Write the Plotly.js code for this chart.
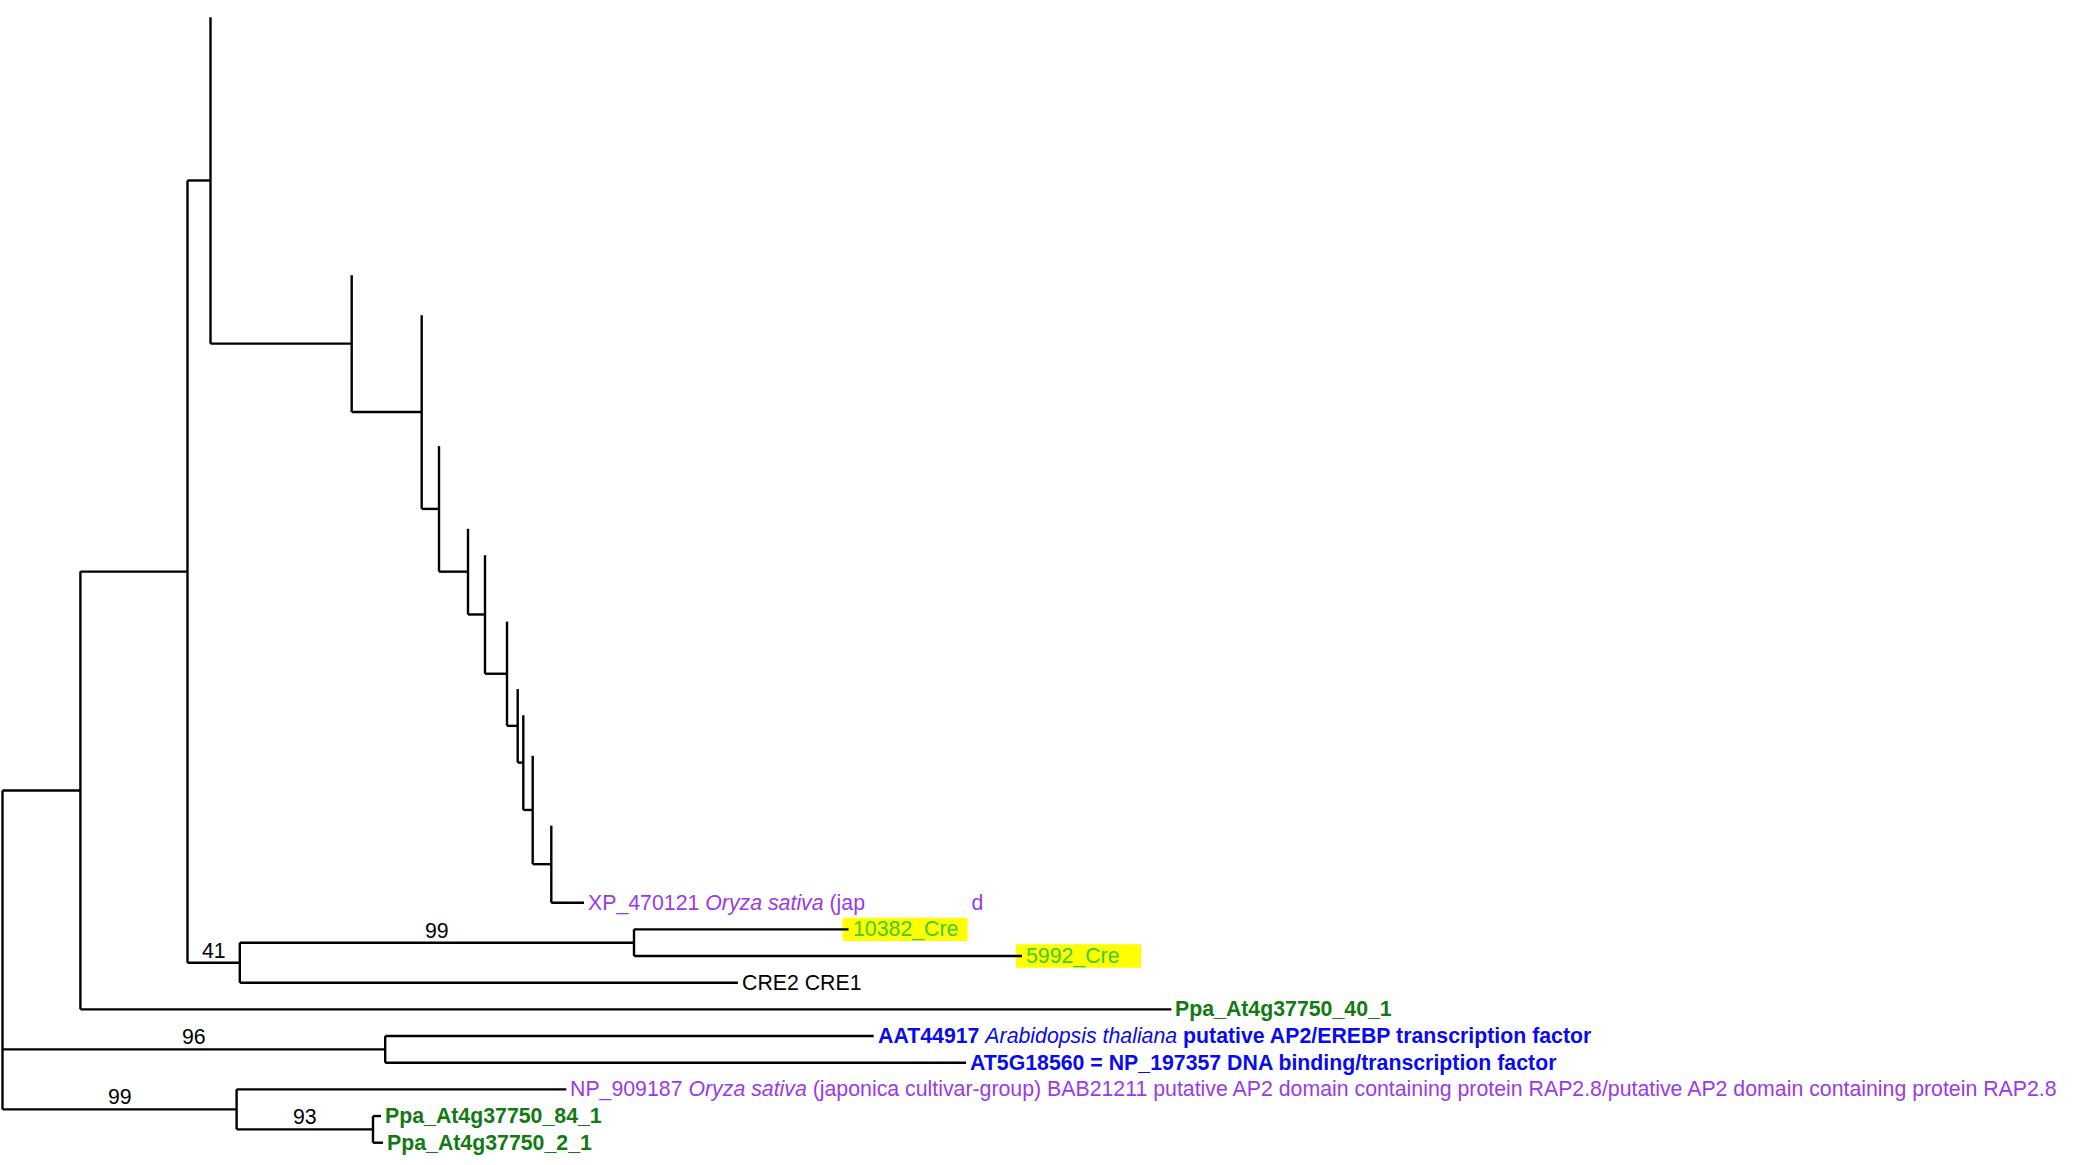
<!DOCTYPE html>
<html><head><meta charset="utf-8">
<script src="https://cdn.plot.ly/plotly-3.0.1.min.js"></script>
<style>html,body{margin:0;padding:0;background:#fff}#chart{width:2084px;height:1165px}</style>
</head><body><div id="chart"></div>
<script>
// ---- tree topology (parent listed before child) ----
const nodeIds = ['root','nA','nB','nC','t0','l1','t1','l2','t2','l3','t3','l4','t4','l5','t5','l6','t6','l7','t7','l8','t8','l9','t9','l10','t10','xp',
  'n41','n99a','c10382','c5992','cre','ppa40','n96','aat','at5','n99b','np','n93','ppa84','ppa2'];
const nodeParents = [null,'root','nA','nB','nC','nC','l1','l1','l2','l2','l3','l3','l4','l4','l5','l5','l6','l6','l7','l7','l8','l8','l9','l9','l10','l10',
  'nB','n41','n99a','n99a','n41','nA','root','n96','n96','root','n99b','n99b','n93','n93'];
// branch lengths (parent -> node)
const branchLengths = [0,0.0779,0.1071,0.0230,0,0.1412,0,0.0700,0,0.0173,0,0.0290,0,0.0170,0,0.0220,0,0.0107,0,0.0056,0,0.0094,0,0.0186,0,0.0327,
  0.0523,0.3942,0.2145,0.3880,0.4981,1.0910,0.3827,0.4885,0.5808,0.2341,0.3297,0.1364,0.0080,0.0100];

// ---- leaves: vertical order positions and labels ----
const leafIds = ['t0','t1','t2','t3','t4','t5','t6','t7','t8','t9','t10','xp','c10382','c5992','cre','ppa40','aat','at5','np','ppa84','ppa2'];
const leafRows = [-0.20,9.47,10.97,15.88,18.98,19.97,22.46,24.99,25.97,27.49,30.11,33,34,35,36,37,38,39,40,41,42];
const leafLabels = ['','','','','','','','','','','',
  'XP_470121 <i>Oryza sativa</i> (jap' + '\u00A0'.repeat(18) + 'd',
  '10382_Cre',
  '5992_Cre',
  'CRE2 CRE1',
  '<b>Ppa_At4g37750_40_1</b>',
  '<b>AAT44917</b> <i>Arabidopsis thaliana</i> <b>putative AP2/EREBP transcription factor</b>',
  '<b>AT5G18560 = NP_197357 DNA binding/transcription factor</b>',
  'NP_909187 <i>Oryza sativa</i> (japonica cultivar-group) BAB21211 putative AP2 domain containing protein RAP2.8/putative AP2 domain containing protein RAP2.8',
  '<b>Ppa_At4g37750_84_1</b>',
  '<b>Ppa_At4g37750_2_1</b>'];
const leafGroups = ['','','','','','','','','','','','rice','cre','cre','other','moss','arab','arab','rice','moss','moss'];
const highlightedLeaves = ['c10382','c5992'];

// ---- bootstrap support ----
const bootstrapNodes = ['n41','n99a','n96','n99b','n93'];
const bootstrapValues = [41,99,96,99,93];

// ---- styles ----
const groupColors = {rice:'#9a3ae8', cre:'#3ccc3c', other:'#000000', moss:'#137a13', arab:'#0a0af0', '':'#000000'};
const FONT = 'Liberation Sans, Arial, Helvetica, sans-serif';
const FSIZE = 21.3;

// ---- build geometry from the tree ----
const idx = {}; nodeIds.forEach((id,i)=>idx[id]=i);
const children = nodeIds.map(()=>[]);
nodeParents.forEach((p,i)=>{ if(p!==null) children[idx[p]].push(i); });
const depth = new Array(nodeIds.length).fill(0);
nodeIds.forEach((id,i)=>{ if(nodeParents[i]!==null) depth[i] = depth[idx[nodeParents[i]]] + branchLengths[i]; });
const ypos = new Array(nodeIds.length).fill(null);
leafIds.forEach((id,k)=>ypos[idx[id]] = leafRows[k]);
function setY(i){
  if(ypos[i]!==null) return ypos[i];
  const cy = children[i].map(setY);
  ypos[i] = (Math.min(...cy)+Math.max(...cy))/2;
  return ypos[i];
}
setY(0);

const lx=[], ly=[];
nodeIds.forEach((id,i)=>{
  if(nodeParents[i]!==null){
    const p = idx[nodeParents[i]];
    lx.push(depth[p], depth[i], null); ly.push(ypos[i], ypos[i], null);
  }
  if(children[i].length){
    const cy = children[i].map(c=>ypos[c]);
    lx.push(depth[i], depth[i], null); ly.push(Math.min(...cy), Math.max(...cy), null);
  }
});

const annotations = [];
leafIds.forEach((id,k)=>{
  if(!leafLabels[k]) return;
  const i = idx[id];
  annotations.push({x:depth[i], y:ypos[i], xref:'x', yref:'y', text:leafLabels[k], showarrow:false,
    xanchor:'left', yanchor:'middle', xshift:2, yshift:0,
    font:{family:FONT, size:FSIZE, color:groupColors[leafGroups[k]]}});
});
bootstrapNodes.forEach((id,k)=>{
  const i = idx[id]; const p = idx[nodeParents[i]];
  annotations.push({x:(depth[i]+depth[p])/2, y:ypos[i], xref:'x', yref:'y', text:String(bootstrapValues[k]),
    showarrow:false, xanchor:'center', yanchor:'middle', yshift:12,
    font:{family:FONT, size:FSIZE, color:'#000'}});
});

const shapes = highlightedLeaves.map(id=>{
  const i = idx[id];
  return {type:'rect', xref:'x', yref:'y', xsizemode:'pixel', ysizemode:'pixel',
    xanchor:depth[i], yanchor:ypos[i], x0:-6, x1:119, y0:-11.7, y1:11.7,
    fillcolor:'#ffff00', line:{width:0}, layer:'below'};
});

const trace = {x:lx, y:ly, type:'scatter', mode:'lines', line:{color:'#000', width:2.4}, hoverinfo:'skip', showlegend:false};

const layout = {
  width:2084, height:1165, margin:{l:0,r:0,t:0,b:0},
  paper_bgcolor:'#fff', plot_bgcolor:'#fff',
  xaxis:{range:[-0.0025,2.0815], visible:false, fixedrange:true},
  yaxis:{range:[42.836,-0.85], visible:false, fixedrange:true},
  annotations:annotations, shapes:shapes, showlegend:false
};
Plotly.newPlot('chart',[trace],layout,{displayModeBar:false, staticPlot:true});
</script></body></html>
